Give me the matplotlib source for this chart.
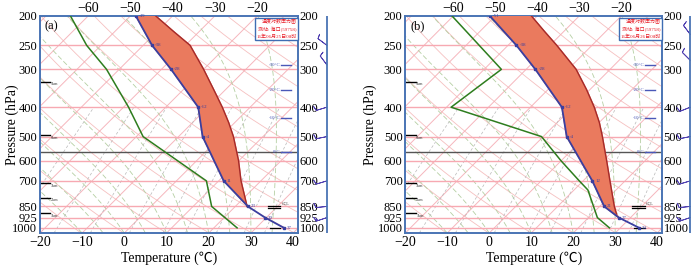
import numpy as np
import matplotlib
matplotlib.use("Agg")
import matplotlib.pyplot as plt
from matplotlib.ticker import NullLocator

plt.rcParams['font.family'] = ['Liberation Serif', 'Noto Sans CJK SC', 'DejaVu Sans']

# pressure levels on the axes
levels = [200, 250, 300, 400, 500, 600, 700, 850, 925, 1000]
top_temps = [-60, -50, -40, -30, -20]

# (a) 2016-06-25 08h
p_env_a = [200, 250, 300, 400, 500, 700, 850, 925, 1000]
t_env_a = [-48.7, -37.9, -27.7, -12.3, -4.3, 11.2, 23.0, 29.7, 36.6]
p_dew_a = [200, 250, 300, 400, 500, 700, 850, 1000]
t_dew_a = [-64.2, -53.4, -43.0, -28.8, -18.4, 7.1, 14.4, 25.5]
p_parcel_a = [850, 700, 600, 500, 450, 400, 350, 300, 250, 225, 200]
t_parcel_a = [22.8, 15.3, 9.9, 3.0, -1.4, -6.6, -12.8, -20.0, -28.9, -36.1, -44.0]
zero_level_a = 563
wind_p_a = [250, 290, 400, 500, 700, 850, 925]
wind_u_a = [8, 6, 10, 10, 10, 10, 12]
wind_v_a = [-6, -8, 3, 2, 3, 1, 4]

# (b) 2016-06-26 08h
p_env_b = [200, 250, 300, 400, 500, 700, 850, 925, 1000]
t_env_b = [-51.3, -38.0, -27.8, -12.5, -4.4, 12.2, 21.1, 27.2, 34.5]
p_dew_b = [200, 300, 400, 500, 600, 700, 750, 925, 1000]
t_dew_b = [-60.3, -35.9, -38.9, -10.4, -0.1, 9.1, 13.3, 22.1, 27.4]
p_parcel_b = [900, 850, 700, 600, 500, 450, 400, 350, 300, 250, 225, 200]
t_parcel_b = [25.8, 23.5, 16.4, 10.8, 4.1, 0.1, -4.8, -10.8, -18.1, -28.4, -34.6, -41.4]
zero_level_b = 560
wind_p_b = [230, 280, 400, 500, 700, 850, 925]
wind_u_b = [6, 8, 10, 10, 10, 10, 12]
wind_v_b = [-8, -8, 4, 2, 3, 1, 4]

height_p = [330, 494, 711, 796, 893]
height_lab = ['9km', '6km', '3km', '2km', '1km']
iso_p = [290, 350, 434]
iso_lab = ['-30°C', '-20°C', '-10°C']

P_BOT, P_TOP = 1040, 200
K = 31.2


def skew(t, p):
    return np.asarray(t) + K * np.log(P_BOT / np.asarray(p, dtype=float))


def moist(t0, pp):
    t = t0 + 273.15
    out = []
    prev = pp[0]
    for p in pp:
        dp = p - prev
        es = 6.112 * np.exp(17.67 * (t - 273.15) / (t - 29.65))
        rs = 0.622 * es / (p - es)
        dtdp = (287.04 * t + 2.501e6 * rs) / (p * (1005.7 + 2.501e6 ** 2 * rs * 0.622 / (287.04 * t * t)))
        t += dtdp * dp
        prev = p
        out.append(t - 273.15)
    return np.array(out)


def background(ax, zero_level):
    pp = np.linspace(P_BOT, 150, 200)
    for t in range(-110, 50, 10):
        ax.plot(skew(t, pp), pp, color='#f6b6bd', lw=0.7)
    for th in range(250, 480, 10):
        t = th * (pp / 1000.) ** 0.286 - 273.15
        ax.plot(skew(t, pp), pp, color='#f3b0b0', lw=0.6, alpha=0.8)
    for t0 in range(-10, 40, 5):
        ax.plot(skew(moist(t0, pp), pp), pp, color='#b5cfa3', lw=0.6, ls=(0, (6, 3)))
    pw = np.linspace(P_BOT, 400, 50)
    for w in [0.4, 1, 2, 4, 7, 10, 16, 24, 32]:
        e = w / 1000. * pw / (0.622 + w / 1000.)
        t = 243.5 * np.log(e / 6.112) / (17.67 - np.log(e / 6.112))
        ax.plot(skew(t, pw), pw, color='#b9b9b9', lw=0.5, ls=(0, (4, 3)))
    for p in levels[1:]:
        ax.axhline(p, color='#f7a9b2', lw=1.0)
    ax.axhline(zero_level, color='#555555', lw=1.0)
    for p, lab in zip(height_p, height_lab):
        ax.plot([-20, -17.5], [p, p], color='black', lw=1.0)
        ax.text(-17.4, p * 1.02, lab, fontsize=3, va='center', color='#333333')
    for p, lab in zip(iso_p + [zero_level], iso_lab + ['0°C']):
        ax.plot([37.2, 39.5], [p, p], color='#4a58b8', lw=1.0)
        ax.text(37.0, p, lab, fontsize=3.5, ha='right', va='center', color='#4a58b8')


def panel(fig, rect, tag, p_env, t_env, p_dew, t_dew, p_par, t_par, zero_level,
          wp, wu, wv, date, barb_x, ylab_x):
    ax = fig.add_axes(rect)
    ax.set_yscale('log')
    ax.set_ylim(P_BOT, P_TOP)
    ax.set_xlim(-20, 41.2)
    background(ax, zero_level)

    # CAPE area between parcel and environment
    i0 = p_env.index(min(p_env, key=lambda v: abs(v - p_par[0])))
    xs = list(skew(t_par, p_par)) + list(skew(t_env[:i0 + 1], p_env[:i0 + 1]))
    ys = list(p_par) + list(p_env[:i0 + 1])
    ax.fill(xs, ys, color='#ea7a5e', zorder=3)
    ax.plot(skew(t_par, p_par), p_par, color='#a52a2a', lw=1.0, zorder=4)

    ax.plot(skew(t_dew, p_dew), p_dew, color='#2e7d1e', lw=1.1, zorder=4)
    ax.plot(skew(t_env, p_env), p_env, color='#3a3fa0', lw=1.3, zorder=5,
            marker='s', ms=2)
    for t, p in zip(t_env, p_env):
        ax.text(skew(t, p) + 0.7, p, '%d' % round(t), fontsize=3.5,
                color='#3a3fa0', va='center', zorder=6)

    ax.plot([34, 37], [848, 848], color='black', lw=0.9)
    ax.plot([34, 37], [862, 862], color='black', lw=0.9)
    ax.text(37.3, 842, 'CCL', fontsize=3, color='#333333')
    ax.plot([34.5, 37], [1000, 1000], color='black', lw=0.9)

    ax.text(-18.8, 222, tag, fontsize=9)
    ax.text(40.8, 205, '温度对数压力图\n测站: 海口(59758)\n' + date,
            fontsize=3.6, color='#e8202a', ha='right', va='top', linespacing=1.6,
            bbox=dict(boxstyle='square,pad=0.3', fc='white', ec='#3f6db3', lw=1.0),
            zorder=7)

    for s in ax.spines.values():
        s.set_color('#4a74b4')
        s.set_linewidth(1.4)
    ax.set_yticks(levels)
    ax.set_yticklabels([str(v) for v in levels])
    ax.yaxis.set_minor_locator(NullLocator())
    ax.set_xticks(range(-20, 41, 10))
    ax.tick_params(axis='x', length=0, labelsize=10, pad=2)
    ax.tick_params(axis='y', length=0, labelsize=9, pad=2)
    ax.set_xlabel('Temperature (℃)', fontsize=10, labelpad=2)
    ax.set_ylabel('Pressure (hPa)', fontsize=10)
    ax.yaxis.set_label_coords(ylab_x, 0.5)

    axr = ax.twinx()
    axr.set_yscale('log')
    axr.set_ylim(P_BOT, P_TOP)
    axr.set_yticks(levels)
    axr.set_yticklabels([str(v) for v in levels])
    axr.yaxis.set_minor_locator(NullLocator())
    axr.tick_params(length=0, labelsize=9, pad=1)
    for s in axr.spines.values():
        s.set_visible(False)

    axt = ax.twiny()
    axt.set_xlim(ax.get_xlim())
    axt.set_xticks(skew(top_temps, P_TOP))
    axt.set_xticklabels([str(v).replace('-', '\u2212') for v in top_temps])
    axt.tick_params(length=0, labelsize=10, pad=1)
    for s in axt.spines.values():
        s.set_visible(False)

    axb = fig.add_axes([barb_x - 0.02, rect[1], 0.04, rect[3]])
    axb.set_yscale('log')
    axb.set_ylim(P_BOT, P_TOP)
    axb.set_xlim(-1, 1)
    axb.axvline(0.5, color='#4a74b4', lw=1.3)
    axb.barbs(np.full(len(wp), 0.5), wp, wu, wv, length=4, color='#5040b0',
              linewidth=0.6, sizes=dict(emptybarb=0))
    axb.axis('off')
    return ax


fig = plt.figure(figsize=(7, 2.66), dpi=100)
panel(fig, [0.057, 0.124, 0.369, 0.816], '(a)', p_env_a, t_env_a, p_dew_a, t_dew_a,
      p_parcel_a, t_parcel_a, zero_level_a, wind_p_a, wind_u_a, wind_v_a,
      '16年06月25日08时', 0.457, -0.082)
panel(fig, [0.579, 0.124, 0.367, 0.816], '(b)', p_env_b, t_env_b, p_dew_b, t_dew_b,
      p_parcel_b, t_parcel_b, zero_level_b, wind_p_b, wind_u_b, wind_v_b,
      '16年06月26日08时', 0.976, -0.112)
fig.savefig('out.png', dpi=100)
